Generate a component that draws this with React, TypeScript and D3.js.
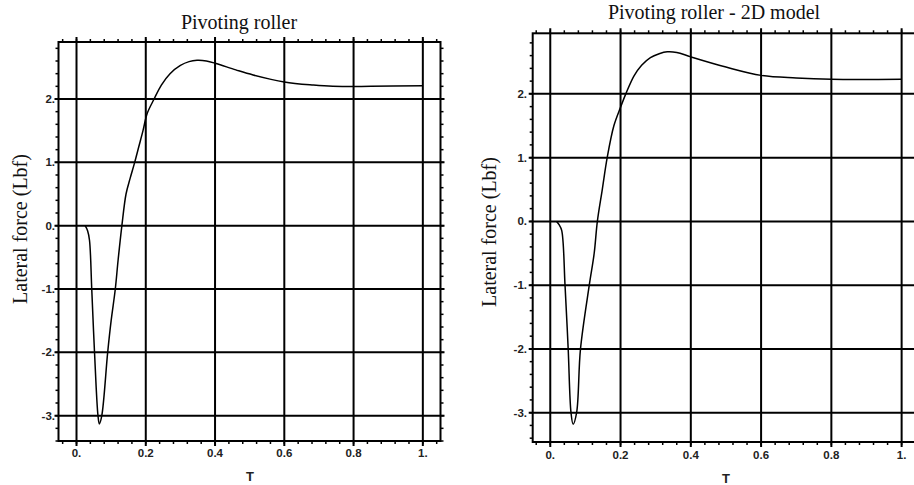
import React from "react";
import * as d3 from "d3";

const xTicks = [0, 0.2, 0.4, 0.6, 0.8, 1.0];
const xTickLabels = ["0.", "0.2", "0.4", "0.6", "0.8", "1."];
const yTicks = [2, 1, 0, -1, -2, -3];
const yTickLabels = ["2.", "1.", "0.", "-1.", "-2.", "-3."];

const leftT = [0.025, 0.032, 0.0375, 0.044, 0.052, 0.062, 0.066, 0.073, 0.09, 0.1, 0.112, 0.12, 0.131, 0.143, 0.155, 0.168, 0.18, 0.192, 0.204, 0.224, 0.245, 0.27, 0.3, 0.325, 0.348, 0.375, 0.403, 0.46, 0.51, 0.6, 0.684, 0.74, 0.85, 1.0];
const leftF = [0, -0.08, -0.23, -1.0, -2.0, -3.0, -3.13, -3.0, -2.0, -1.5, -1.0, -0.55, 0.0, 0.5, 0.75, 1.0, 1.25, 1.5, 1.77, 2.0, 2.22, 2.4, 2.53, 2.59, 2.61, 2.6, 2.56, 2.46, 2.38, 2.27, 2.22, 2.2, 2.2, 2.21];

const rightT = [0.018, 0.025, 0.0325, 0.042, 0.051, 0.059, 0.065, 0.075, 0.086, 0.111, 0.125, 0.134, 0.148, 0.162, 0.181, 0.2, 0.215, 0.238, 0.26, 0.285, 0.31, 0.333, 0.36, 0.4, 0.5, 0.6, 0.7, 0.8, 1.0];
const rightF = [0, -0.05, -0.14, -1.0, -2.0, -3.0, -3.18, -3.0, -2.0, -1.0, -0.5, 0.0, 0.5, 1.0, 1.5, 1.79, 2.0, 2.28, 2.45, 2.57, 2.63, 2.66, 2.65, 2.58, 2.42, 2.29, 2.25, 2.23, 2.23];

type PanelProps = {
  title: string;
  t: number[];
  f: number[];
  xDomain: [number, number];
  xRange: [number, number];
  yDomain: [number, number];
  yRange: [number, number];
  titleX: number;
  titleY: number;
  yLabelX: number;
  yLabelY: number;
  xLabelX: number;
  xLabelY: number;
  xTickY: number;
  yTickX: number;
};

function Panel(p: PanelProps) {
  const x = d3.scaleLinear().domain(p.xDomain).range(p.xRange);
  const y = d3.scaleLinear().domain(p.yDomain).range(p.yRange);
  const [x0, x1] = p.xRange;
  const [yb, yt] = p.yRange;
  const pts = p.t.map((t, i) => [t, p.f[i]] as [number, number]);
  const line = d3
    .line<[number, number]>()
    .x((d) => x(d[0]))
    .y((d) => y(d[1]))
    .curve(d3.curveCatmullRom.alpha(0.5));

  const minorX: number[] = [];
  for (let v = -0.04; v <= p.xDomain[1] + 1e-9; v += 0.04) {
    const vv = Math.round(v * 100) / 100;
    if (vv >= p.xDomain[0] && vv <= p.xDomain[1]) minorX.push(vv);
  }
  const minorY: number[] = [];
  for (let v = -3.4; v <= p.yDomain[1] + 1e-9; v += 0.2) {
    const vv = Math.round(v * 10) / 10;
    if (vv >= p.yDomain[0] && vv <= p.yDomain[1]) minorY.push(vv);
  }
  const sans = "'Liberation Sans', Arial, sans-serif";
  const serif = "'Liberation Serif', 'Times New Roman', serif";
  return (
    <g>
      <text x={p.titleX} y={p.titleY} textAnchor="middle" fontFamily={serif} fontSize={20} fill="#111">
        {p.title}
      </text>
      {minorX.map((v, i) => (
        <g key={"mx" + i} stroke="#000" strokeWidth={1.5}>
          <line x1={x(v)} x2={x(v)} y1={yt} y2={yt - 3} />
          <line x1={x(v)} x2={x(v)} y1={yb} y2={yb + 3} />
        </g>
      ))}
      {minorY.map((v, i) => (
        <g key={"my" + i} stroke="#000" strokeWidth={1.5}>
          <line x1={x0} x2={x0 - 3} y1={y(v)} y2={y(v)} />
          <line x1={x1} x2={x1 + 3} y1={y(v)} y2={y(v)} />
        </g>
      ))}
      {xTicks.map((v, i) => (
        <line key={"gx" + i} x1={x(v)} x2={x(v)} y1={yt - 5} y2={yb + 5} stroke="#000" strokeWidth={2} />
      ))}
      {yTicks.map((v, i) => (
        <line key={"gy" + i} x1={x0 - 4} x2={x1 + 4} y1={y(v)} y2={y(v)} stroke="#000" strokeWidth={2} />
      ))}
      <rect x={x0} y={yt} width={x1 - x0} height={yb - yt} fill="none" stroke="#000" strokeWidth={2} />
      <path d={line(pts) || ""} fill="none" stroke="#000" strokeWidth={1.5} />
      {xTicks.map((v, i) => (
        <text key={"lx" + i} x={x(v)} y={p.xTickY} textAnchor="middle" fontFamily={sans} fontWeight="bold" fontSize={11.5} fill="#222">
          {xTickLabels[i]}
        </text>
      ))}
      {yTicks.map((v, i) => (
        <text key={"ly" + i} x={p.yTickX} y={y(v) + 4} textAnchor="end" fontFamily={sans} fontWeight="bold" fontSize={11.5} fill="#222">
          {yTickLabels[i]}
        </text>
      ))}
      <text x={p.xLabelX} y={p.xLabelY} textAnchor="middle" fontFamily={sans} fontWeight="bold" fontSize={13} fill="#222">
        T
      </text>
      <text
        transform={`translate(${p.yLabelX},${p.yLabelY}) rotate(-90)`}
        textAnchor="middle"
        fontFamily={serif}
        fontSize={20}
        fill="#111"
      >
        Lateral force (Lbf)
      </text>
    </g>
  );
}

export default function App() {
  return (
    <svg width={914} height={485} style={{ position: "absolute", left: 0, top: 0, background: "#fff" }}>
      <rect x={0} y={0} width={914} height={485} fill="#fff" />
      <Panel
        title="Pivoting roller"
        t={leftT}
        f={leftF}
        xDomain={[-0.052, 1.051]}
        xRange={[58.5, 440.5]}
        yDomain={[-3.4, 2.9]}
        yRange={[441, 42]}
        titleX={239}
        titleY={29}
        yLabelX={27}
        yLabelY={229}
        xLabelX={250}
        xLabelY={481}
        xTickY={457}
        yTickX={55}
      />
      <Panel
        title="Pivoting roller - 2D model"
        t={rightT}
        f={rightF}
        xDomain={[-0.05, 1.05]}
        xRange={[532.7, 919.2]}
        yDomain={[-3.46, 2.95]}
        yRange={[442, 33.3]}
        titleX={714}
        titleY={19}
        yLabelX={496}
        yLabelY={232}
        xLabelX={726}
        xLabelY={483}
        xTickY={459}
        yTickX={527}
      />
    </svg>
  );
}
